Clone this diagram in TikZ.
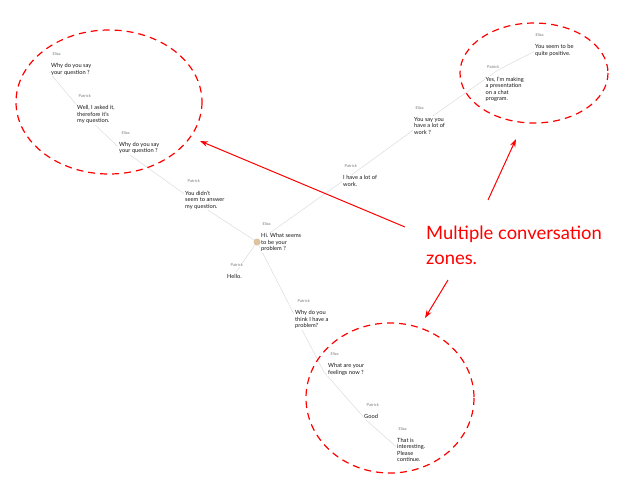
\documentclass[tikz,border=0pt]{standalone}
\usepackage{fontspec}
\setmainfont{Lato}
\usetikzlibrary{positioning}
\usetikzlibrary{arrows.meta}
\definecolor{talkgray}{RGB}{220,220,220}
\definecolor{zonered}{RGB}{255,0,0}
\definecolor{dottan}{RGB}{222,196,158}
\definecolor{spkgray}{RGB}{125,125,125}

\begin{document}
\begin{tikzpicture}[x=1pt,y=-1pt,
  talk/.style={draw=talkgray,line width=0.5pt},
  msg/.style={font=\fontsize{5.7}{6.5}\selectfont,align=left,anchor=north west,inner sep=1pt,fill=white,text=black!90},
  spk/.style={font=\fontsize{4}{4.5}\selectfont,text=spkgray,inner sep=0.5pt,fill=white},
  zone/.style={draw=zonered,line width=1.2pt,dash pattern=on 7pt off 5pt},
  pointer/.style={draw=zonered,line width=1pt,-{Stealth[length=8pt,width=5.5pt]}}]
\useasboundingbox (0,0) rectangle (640,480);

% points of the conversation tree
\coordinate (hi) at (257,242);
\coordinate (hello) at (236,272);
\coordinate (didnt) at (197,203);
\coordinate (whyB) at (116,145);
\coordinate (well) at (85,115);
\coordinate (whyA) at (49,72);
\coordinate (work) at (350,176);
\coordinate (saywork) at (430,118);
\coordinate (yes) at (498,70);
\coordinate (positive) at (537,50);
\coordinate (think) at (297,320);
\coordinate (feelings) at (324,372);
\coordinate (good) at (366,420);
\coordinate (interesting) at (400,450);

\draw[talk] (hi) -- (hello);
\draw[talk] (hi) -- (didnt);
\draw[talk] (didnt) -- (whyB);
\draw[talk] (whyB) -- (well);
\draw[talk] (well) -- (whyA);
\draw[talk] (hi) -- (work);
\draw[talk] (work) -- (saywork);
\draw[talk] (saywork) -- (yes);
\draw[talk] (yes) -- (positive);
\draw[talk] (hi) -- (think);
\draw[talk] (think) -- (feelings);
\draw[talk] (feelings) -- (good);
\draw[talk] (good) -- (interesting);

% messages
\node[msg] (hiT) at (260,232.5) {Hi. What seems\\to be your\\problem ?};
\node[spk,above right=6pt and 2pt of hiT.north west] (hiS) {Eliza};
\node[msg] (helloT) at (226,273.5) {Hello.};
\node[spk,above right=6pt and 4pt of helloT.north west] (helloS) {Patrick};
\node[msg] (didntT) at (184,189.5) {You didn't\\seem to answer\\my question.};
\node[spk,above right=6pt and 3pt of didntT.north west] (didntS) {Patrick};
\node[msg] (whyBT) at (118,141) {Why do you say\\your question ?};
\node[spk,above right=6pt and 3pt of whyBT.north west] (whyBS) {Eliza};
\node[msg] (wellT) at (76,104.5) {Well, I asked it,\\therefore it's\\my question.};
\node[spk,above right=6pt and 2pt of wellT.north west] (wellS) {Patrick};
\node[msg] (whyAT) at (50,62.5) {Why do you say\\your question ?};
\node[spk,above right=6pt and 2pt of whyAT.north west] (whyAS) {Eliza};
\node[msg] (workT) at (342,174.5) {I have a lot of\\work.};
\node[spk,above right=6pt and 2pt of workT.north west] (workS) {Patrick};
\node[msg] (sayworkT) at (413,116) {You say you\\have a lot of\\work ?};
\node[spk,above right=6pt and 2pt of sayworkT.north west] (sayworkS) {Eliza};
\node[msg] (yesT) at (484.5,75.5) {Yes, I'm making\\a presentation\\on a chat\\program.};
\node[spk,above right=6pt and 2pt of yesT.north west] (yesS) {Patrick};
\node[msg] (positiveT) at (534,43.5) {You seem to be\\quite positive.};
\node[spk,above right=6pt and 1pt of positiveT.north west] (positiveS) {Eliza};
\node[msg] (thinkT) at (294,309.5) {Why do you\\think I have a\\problem?};
\node[spk,above right=6pt and 3pt of thinkT.north west] (thinkS) {Patrick};
\node[msg] (feelingsT) at (327,362.5) {What are your\\feelings now ?};
\node[spk,above right=6pt and 3pt of feelingsT.north west] (feelingsS) {Eliza};
\node[msg] (goodT) at (363,413.5) {Good};
\node[spk,above right=6pt and 3pt of goodT.north west] (goodS) {Patrick};
\node[msg] (interestingT) at (396,437) {That is\\interesting.\\Please\\continue.};
\node[spk,above right=6pt and 2pt of interestingT.north west] (interestingS) {Eliza};
\node[circle,fill=dottan,minimum size=7pt,inner sep=0pt] (hiDot) at (hi) {};

% zones
\draw[zone] (109,102) ellipse [x radius=93,y radius=72];
\draw[zone] (534,73) ellipse [x radius=74,y radius=50];
\draw[zone] (390,398) ellipse [x radius=84,y radius=75];

\node[font=\fontsize{18.4}{25}\selectfont,text=zonered,align=left,anchor=north west,inner sep=0pt] (zonesNote) at (426,226) {Multiple conversation\\zones.};
\coordinate (noteA) at (405,227);
\coordinate (tipA) at (200,141);
\coordinate (noteB) at (488,200);
\coordinate (tipB) at (516,139);
\coordinate (noteC) at (448,280);
\coordinate (tipC) at (425,318);
\draw[pointer] (noteA) -- (tipA);
\draw[pointer] (noteB) -- (tipB);
\draw[pointer] (noteC) -- (tipC);

\end{tikzpicture}
\end{document}
